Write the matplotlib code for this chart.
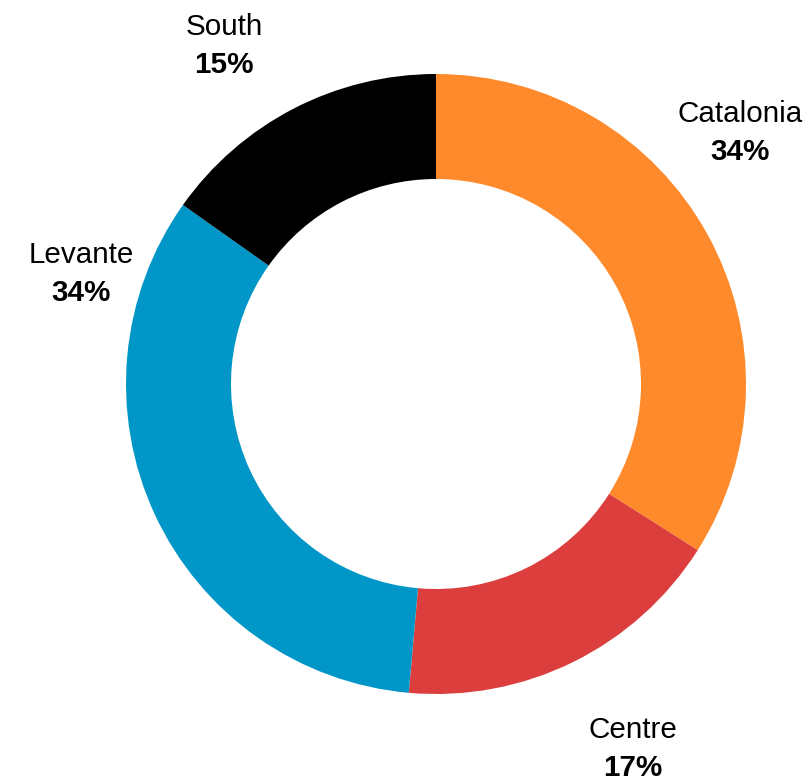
import matplotlib
matplotlib.use("Agg")
from matplotlib import pyplot as plt

regions = ['Catalonia', 'Centre', 'Levante', 'South']
shares = [34.0, 17.4, 33.4, 15.2]
pct_labels = ['34%', '17%', '34%', '15%']
colors = ['#FF8A2B', '#DC3E3D', '#0097C8', '#000000']

# label anchor (centre of the two-line block), in units of the outer radius
label_pos = [(0.98, 0.81), (0.635, -1.178), (-1.145, 0.355), (-0.684, 1.09)]

plt.rcParams['font.family'] = ['Liberation Sans', 'DejaVu Sans']

fig = plt.figure(figsize=(8.1, 7.81), dpi=100)
ax = fig.add_axes([0, 0, 1, 1])

R = 310.0
cx, cy = 436.0, 384.0
ax.pie(shares, colors=colors, startangle=90, counterclock=False,
       radius=1.0, wedgeprops=dict(width=(310 - 205) / R, edgecolor='none'))

for name, pct, (x, y) in zip(regions, pct_labels, label_pos):
    ax.text(x, y + 0.061, name, ha='center', va='center', fontsize=21.3)
    ax.text(x, y - 0.061, pct, ha='center', va='center', fontsize=21.3,
            fontweight='bold')

ax.set_xlim(-cx / R, (810 - cx) / R)
ax.set_ylim(-(781 - cy) / R, cy / R)
ax.set_aspect('equal')
ax.axis('off')

fig.savefig('out.png', dpi=100)
